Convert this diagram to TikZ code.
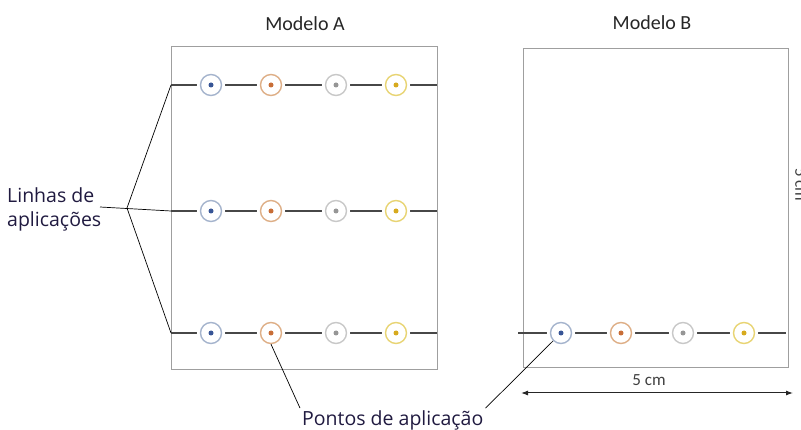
\documentclass[tikz,border=0pt]{standalone}
\usepackage{fontspec}
\setmainfont{Open Sans}
\newfontfamily\calibri{Carlito}
\usetikzlibrary{positioning,arrows.meta}

% colours of the application points (ring / centre)
\definecolor{azul}{RGB}{55,85,150}
\definecolor{azulanel}{RGB}{165,180,205}
\definecolor{laranja}{RGB}{200,110,55}
\definecolor{laranjaanel}{RGB}{222,175,135}
\definecolor{cinza}{RGB}{150,150,150}
\definecolor{cinzaanel}{RGB}{200,200,200}
\definecolor{amarelo}{RGB}{215,170,30}
\definecolor{amareloanel}{RGB}{232,212,115}
\definecolor{rotulo}{RGB}{32,26,64}

\tikzset{
  modelo/.style={draw=gray!75, line width=1.3pt, anchor=north west, inner sep=0pt},
  titulo/.style={font=\calibri\fontsize{20}{24}\selectfont, text=black!85},
  linha/.style={draw=black!72, line width=2pt},
  ponto/.style={circle, minimum size=21pt, inner sep=0pt, draw=#1anel, line width=1.4pt,
    fill=white, preaction={draw=white, line width=7pt},
    path picture={\fill[#1] (path picture bounding box.center) circle (2.5pt);}},
  guia/.style={draw=black, line width=0.7pt},
  legenda/.style={font=\fontsize{19.5}{24}\selectfont, text=rotulo, align=left},
  cota/.style={font=\calibri\fontsize{17}{20}\selectfont, text=black!75},
}

\begin{document}
\begin{tikzpicture}[x=1pt, y=-1pt]
\useasboundingbox (0,0) rectangle (801,430);

% Boxes and titles
\node (boxA) [modelo, minimum width=266pt, minimum height=323pt] at (171,46) {};
\node (boxB) [modelo, minimum width=265pt, minimum height=319pt] at (523,48) {};
\node (tituloA) [titulo] at (305,24) {Modelo A};
\node (tituloB) [titulo] at (652,23) {Modelo B};

% Model A: three lines with four points each
\foreach \y/\r in {85/1, 211/2, 333/3} {
  \coordinate (linA\r w) at (171,\y);
  \coordinate (linA\r e) at (437,\y);
  \draw[linha] (linA\r w) -- (linA\r e);
  \foreach \x/\c/\k in {211/azul/1, 271/laranja/2, 336/cinza/3, 396/amarelo/4}
    \node (pA\r\k) [ponto=\c] at (\x,\y) {};
}

% Model B: one line at the bottom
\coordinate (linBw) at (518,333);
\coordinate (linBe) at (786,333);
\draw[linha] (linBw) -- (linBe);
\foreach \x/\c/\k in {561/azul/1, 621/laranja/2, 683/cinza/3, 744/amarelo/4}
  \node (pB\k) [ponto=\c] at (\x,333) {};

% Dimensions
\coordinate (cotaE) at (521,393);
\coordinate (cotaD) at (793,393);
\draw[black!85, line width=1pt, {Latex[length=7pt,width=5pt]}-{Latex[length=7pt,width=5pt]}] (cotaE) -- (cotaD);
\node (medida) [cota] at (649,380) {5 cm};
\node (medidaV) [cota, rotate=-90, anchor=south west, inner sep=0pt] at (795,168) {5 cm};

% Labels and leader lines
\node (linhas) [legenda, anchor=north west, inner sep=0pt] at (7,187) {Linhas de\\aplicações};
\coordinate (linhasfim) at (100,207);
\coordinate (leque) at (127,208);
\draw[guia] (linhasfim) -- (linA2w);
\draw[guia] (leque) -- (linA1w);
\draw[guia] (leque) -- (linA3w);

\node (pontos) [legenda, anchor=south west, inner sep=2pt] at (300,432) {Pontos de aplicação};
\draw[guia] (pA32.south) -- (pontos.north west);
\draw[guia] (pB1.south west) -- (pontos.north east);

\end{tikzpicture}
\end{document}
